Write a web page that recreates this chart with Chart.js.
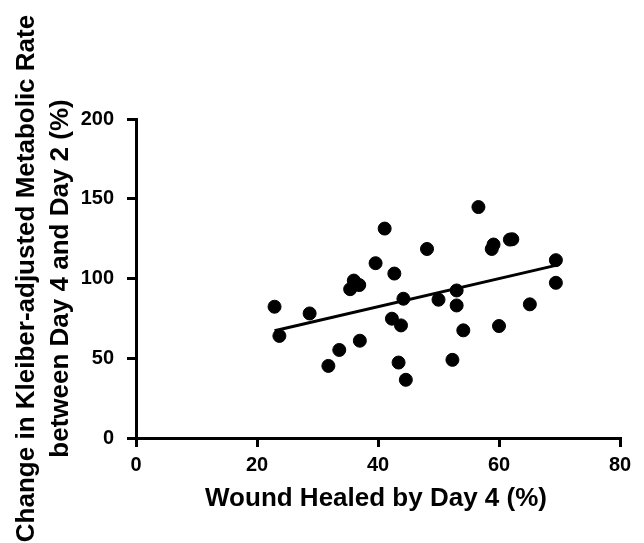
<!DOCTYPE html>
<html><head><meta charset="utf-8">
<script src="https://cdn.jsdelivr.net/npm/chart.js@4/dist/chart.umd.min.js"></script>
<style>html,body{margin:0;padding:0;background:#fff}#wrap{width:644px;height:543px}</style>
</head><body><div id="wrap"><canvas id="c" width="644" height="543"></canvas></div>
<script>
const woundHealed = [22.9,23.7,28.7,31.8,33.6,35.4,36.0,36.9,37.0,39.6,41.1,42.7,42.3,43.8,43.4,44.2,44.6,48.1,50.0,52.3,53.0,53.0,54.1,56.6,58.8,59.1,60.0,61.8,62.2,65.1,69.4,69.4];
const metabolicChange = [82.3,64.0,78.1,45.2,55.2,93.3,98.7,95.9,61.0,109.6,131.3,103.1,74.8,70.6,47.3,87.3,36.5,118.5,86.7,49.0,92.5,83.1,67.5,144.8,118.5,121.3,70.2,124.4,124.6,83.8,111.5,97.3];
const xTicks = [0,20,40,60,80];
const yTicks = [0,50,100,150,200];
const xTitle = 'Wound Healed by Day 4 (%)';
const yTitle = ['Change in Kleiber-adjusted Metabolic Rate','between Day 4 and Day 2 (%)'];

const pts = woundHealed.map((x,i)=>({x, y: metabolicChange[i]}));
const n = pts.length;
const mx = woundHealed.reduce((a,b)=>a+b,0)/n;
const my = metabolicChange.reduce((a,b)=>a+b,0)/n;
let sxy=0,sxx=0;
pts.forEach(p=>{sxy+=(p.x-mx)*(p.y-my);sxx+=(p.x-mx)**2;});
const slope = sxy/sxx, icpt = my - slope*mx;
const xmin = Math.min(...woundHealed), xmax = Math.max(...woundHealed);
const fit = [{x:xmin,y:icpt+slope*xmin},{x:xmax,y:icpt+slope*xmax}];

const FONT = '"Liberation Sans", Arial, sans-serif';
const titles = {
  id:'titles',
  afterDraw(chart){
    const ctx = chart.ctx, a = chart.chartArea;
    ctx.save();
    ctx.fillStyle = '#000';
    ctx.textAlign = 'center';
    ctx.textBaseline = 'middle';
    ctx.font = 'bold 26px ' + FONT;
    ctx.fillText(xTitle, 376, 499);
    ctx.translate(0,(a.top+a.bottom)/2);
    ctx.rotate(-Math.PI/2);
    ctx.fillText(yTitle[0], 0, 27);
    ctx.fillText(yTitle[1], 0, 61);
    ctx.restore();
  }
};

new Chart(document.getElementById('c'), {
  type:'scatter',
  data:{datasets:[
    {type:'line', data:fit, borderColor:'#000', borderWidth:3, pointRadius:0, fill:false},
    {data:pts, backgroundColor:'#000', borderColor:'#000', pointRadius:6.5, pointHoverRadius:6.5}
  ]},
  options:{
    responsive:false, animation:false,
    layout:{padding:{top:119,right:24,left:0,bottom:0}},
    plugins:{legend:{display:false},tooltip:{enabled:false}},
    scales:{
      x:{type:'linear', min:0, max:80,
        afterBuildTicks(s){s.ticks = xTicks.map(v=>({value:v}));},
        afterFit(s){s.height = 105;},
        border:{display:true,color:'#000',width:3},
        grid:{drawOnChartArea:false, drawTicks:true, tickLength:9, color:'#000', lineWidth:3},
        ticks:{color:'#000', padding:6, font:{family:FONT, size:20, weight:'bold'}}
      },
      y:{type:'linear', min:0, max:200,
        afterBuildTicks(s){s.ticks = yTicks.map(v=>({value:v}));},
        afterFit(s){s.width = 136;},
        border:{display:true,color:'#000',width:3},
        grid:{drawOnChartArea:false, drawTicks:true, tickLength:9, color:'#000', lineWidth:3},
        ticks:{color:'#000', padding:13, font:{family:FONT, size:20, weight:'bold'}}
      }
    }
  },
  plugins:[titles]
});
</script></body></html>
